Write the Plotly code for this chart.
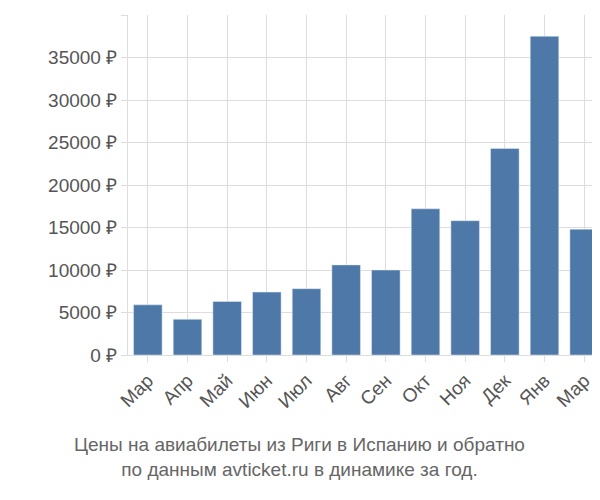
import plotly.graph_objects as go

months = ["Мар", "Апр", "Май", "Июн", "Июл", "Авг", "Сен", "Окт", "Ноя", "Дек", "Янв", "Мар"]
prices = [5900, 4200, 6300, 7400, 7800, 10600, 10000, 17200, 15800, 24300, 37500, 14800]
yticks = [0, 5000, 10000, 15000, 20000, 25000, 30000, 35000, 40000]

pos = list(range(len(months)))
fig = go.Figure(go.Bar(x=pos, y=prices, marker_color="#4d78a8", width=0.72))
fig.update_layout(
    width=600, height=500, margin=dict(l=120, r=4, t=7, b=153),
    plot_bgcolor="white", paper_bgcolor="white", showlegend=False,
    font=dict(family="Liberation Sans, Arial", size=19, color="#555"),
)
fig.update_xaxes(tickvals=pos, ticktext=months, tickangle=-45, range=[-0.5, 11.5],
                 showgrid=True, gridcolor="#ddd", ticks="outside", ticklen=6, tickcolor="#ddd",
                 showline=True, linecolor="#ddd")
fig.update_yaxes(tickvals=yticks, ticktext=[f"{v} ₽" for v in yticks], range=[0, 40000],
                 showgrid=True, gridcolor="#ddd", ticks="outside", ticklen=6, tickcolor="#ddd",
                 showline=True, linecolor="#ddd")
fig.add_annotation(text="Цены на авиабилеты из Риги в Испанию и обратно<br>по данным avticket.ru в динамике за год.",
                   xref="paper", yref="paper", x=0.36, y=-0.225, yanchor="top", showarrow=False,
                   font=dict(size=19, color="#666"))
fig.write_html("out.html")
